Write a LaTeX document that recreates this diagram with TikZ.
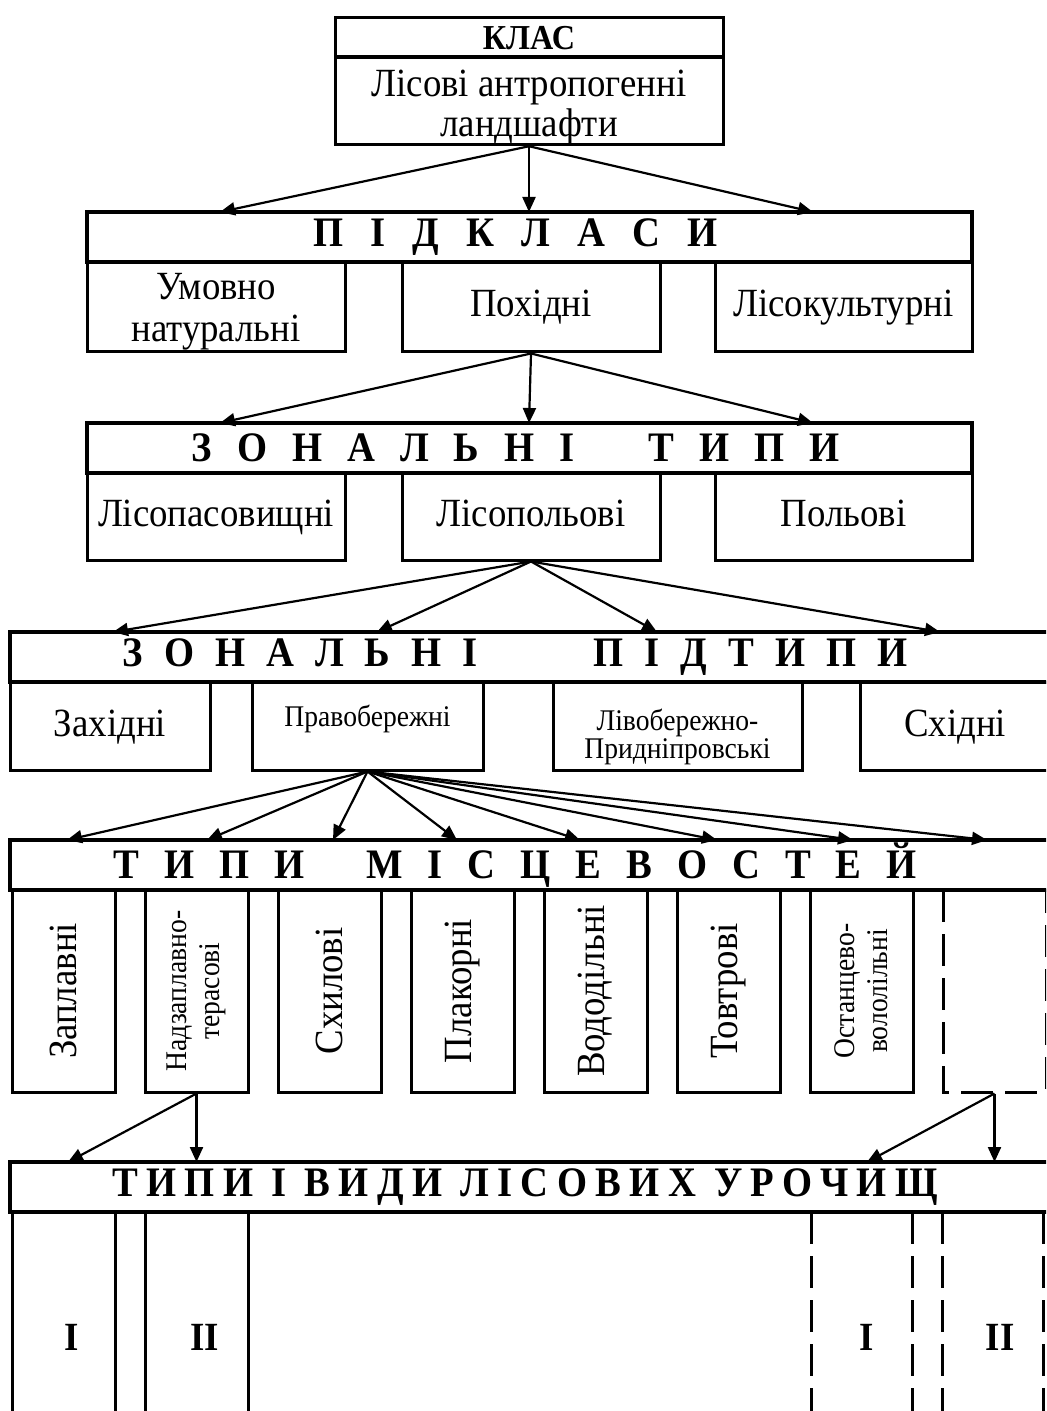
\documentclass[tikz,border=0pt]{standalone}
\usepackage{fontspec}
\setmainfont[FakeStretch=0.92]{Liberation Serif}
\usetikzlibrary{arrows.meta}

\newcommand{\bigtxt}{\fontsize{20}{20}\selectfont}
\newcommand{\smalltxt}{\fontsize{15}{16.5}\selectfont}
\newcommand{\lgap}[1]{\spaceskip=#1\relax}

\begin{document}
\begin{tikzpicture}[x=0.5pt,y=-0.5pt,
    every node/.style={inner sep=0pt,font=\bigtxt},
    box/.style={draw,line width=1.5pt,align=center},
    one/.style={text height=14pt,text depth=4pt},
    hdr/.style={draw,line width=2pt,minimum height=25pt,
                font=\fontsize{21}{24}\selectfont\bfseries},
    vbox/.style={box,rotate=90,minimum width=101pt,minimum height=51.5pt},
    arr/.style={line width=1.1pt,-{Triangle[length=7.5pt,width=6.5pt]}},
    brk/.style={dash pattern=on 16pt off 6pt}]
  \clip (0,0) rectangle (1046,1411);

  % class
  \node[box,minimum width=194pt,minimum height=20pt,
        font=\fontsize{17.5}{18}\selectfont\bfseries] (klas) at (529,38) {КЛАС};
  \node[box,minimum width=194pt,minimum height=42.5pt] (klasd) at (529,100.5)
    {\rule{0pt}{20pt}Лісові антропогенні\\ландшафти};

  % subclasses
  \node[hdr,minimum width=442.5pt] (pidkl) at (529.5,237)
    {\lgap{13.5pt}П І Д К Л А С И\hspace*{14pt}};
  \node[box,minimum width=129pt,minimum height=45pt,font=\fontsize{20}{21}\selectfont]
    (umovno) at (216,307) {\rule{0pt}{18pt}Умовно\\натуральні};
  \node[box,one,minimum width=129pt,minimum height=45pt] (pokhidni) at (531,307) {Похідні};
  \node[box,one,minimum width=128.5pt,minimum height=45pt] (lisokult) at (843.5,307) {Лісокультурні};

  % zonal types
  \node[hdr,minimum width=442.5pt] (zontyp) at (529.5,448)
    {\lgap{12.5pt}З О Н А Л Ь Н І\hspace{37pt}Т И П И\hspace*{14pt}};
  \node[box,one,minimum width=129pt,minimum height=43.5pt] (lisopas) at (216,516.5) {Лісопасовищні};
  \node[box,one,minimum width=129pt,minimum height=43.5pt] (lisopol) at (531,516.5) {Лісопольові};
  \node[box,one,minimum width=128.5pt,minimum height=43.5pt] (polovi) at (843.5,516.5) {Польові};

  % zonal subtypes
  \node[hdr,minimum width=521pt] (zonpid) at (531,657)
    {\lgap{10.5pt}З О Н А Л Ь Н І\hspace{58pt}П І Д Т И П И\hspace*{16pt}};
  \node[box,one,minimum width=100pt,minimum height=44pt] (zakh) at (110,726) {Західні};
  \node[box,minimum width=115.5pt,minimum height=44pt,font=\fontsize{15}{14}\selectfont,
        text depth=10pt] (pravob) at (367.5,726) {Правобережні};
  \node[box,minimum width=124.5pt,minimum height=44pt,font=\fontsize{15}{14}\selectfont]
    (livob) at (677.5,726) {\rule{0pt}{22pt}Лівобережно-\\Придніпровські};
  \node[box,one,minimum width=95pt,minimum height=44pt] (skhid) at (955,726) {Східні};

  % types of localities (rotated boxes: west = bottom edge)
  \node[hdr,minimum width=521pt] (typy) at (531,865)
    {\lgap{12.5pt}Т И П И\hspace{31pt}М І С Ц Е В О С Т Е Й\hspace*{16pt}};
  \node[vbox] (m1) at (63.5,991) {Заплавні};
  \node[vbox,font=\smalltxt] (m2) at (196.5,991) {Надзаплавно-\\терасові};
  \node[vbox] (m3) at (329.5,991) {Схилові};
  \node[vbox] (m4) at (462.5,991) {Плакорні};
  \node[vbox] (m5) at (595.5,991) {Вододільні};
  \node[vbox] (m6) at (728.5,991) {Товтрові};
  \node[vbox,font=\smalltxt] (m7) at (861.5,991) {Останцево-\\вололільні};
  \node[vbox,brk] (m8) at (994.5,991) {};

  % types and kinds of forest tracts
  \node[hdr,minimum width=521pt] (uroch) at (531,1187)
    {\addfontfeatures{LetterSpace=20}ТИПИ І ВИДИ ЛІСОВИХ УРОЧИЩ\hspace*{6pt}};
  \foreach \x in {12,115,145,248}
    \draw[line width=1.5pt] (\x,1212) -- (\x,1420);
  \foreach \x in {811,912,942,1043}
    \draw[line width=1.5pt,brk] (\x,1212) -- (\x,1420);
  \node[font=\bigtxt\bfseries] (u1) at (72,1337) {I};
  \node[font=\bigtxt\bfseries] (u2) at (205,1337) {II};
  \node[font=\bigtxt\bfseries] (u3) at (867,1337) {I};
  \node[font=\bigtxt\bfseries] (u4) at (1000,1337) {II};

  % arrow ends on the header tops
  \foreach \tx [count=\i] in {220,529,813} \coordinate (a\i) at (\tx,212);
  \foreach \tx [count=\i] in {220,529,813} \coordinate (b\i) at (\tx,423);
  \foreach \tx [count=\i] in {113,377,657,940} \coordinate (c\i) at (\tx,632);
  \foreach \tx [count=\i] in {67,207,333,457,580,717,853,987} \coordinate (d\i) at (\tx,840);
  \foreach \tx [count=\i] in {68,196.5,867,994.5} \coordinate (e\i) at (\tx,1162);

  \foreach \i in {1,2,3} \draw[arr] (klasd.south) -- (a\i);
  \foreach \i in {1,2,3} \draw[arr] (pokhidni.south) -- (b\i);
  \foreach \i in {1,...,4} \draw[arr] (lisopol.south) -- (c\i);
  \foreach \i in {1,...,8} \draw[arr] (pravob.south) -- (d\i);
  \draw[arr] (m2.west) -- (e1);
  \draw[arr] (m2.west) -- (e2);
  \draw[arr] (m8.west) -- (e3);
  \draw[arr] (m8.west) -- (e4);
\end{tikzpicture}
\end{document}
